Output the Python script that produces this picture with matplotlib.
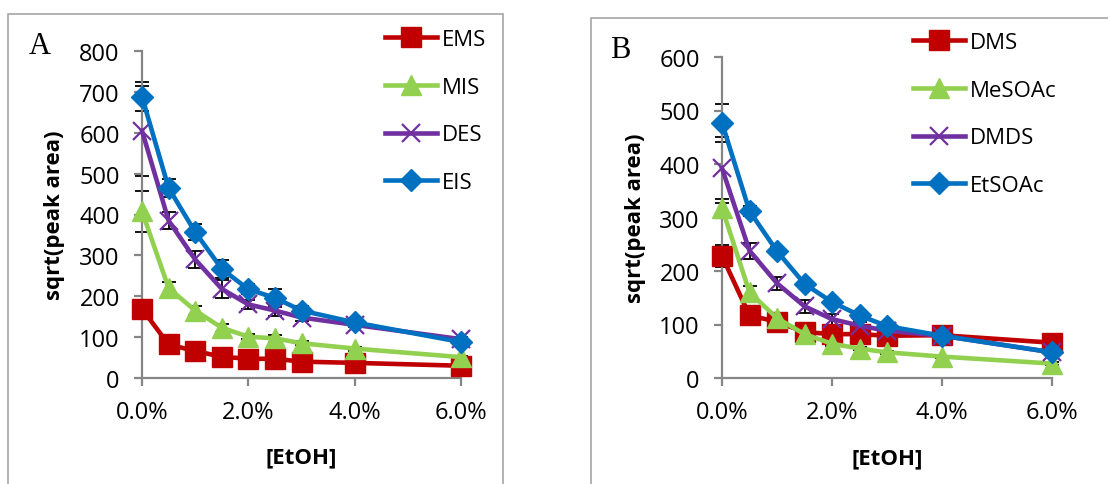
import matplotlib.pyplot as plt
import matplotlib.patches as mpatches
from matplotlib.ticker import PercentFormatter
import numpy as np

# ethanol concentration (fraction)
etoh = [0.0, 0.005, 0.01, 0.015, 0.02, 0.025, 0.03, 0.04, 0.06]

# panel A
ems = [169, 82, 66, 52, 47, 47, 40, 37, 30]
mis = [408, 220, 165, 123, 101, 97, 85, 72, 51]
des = [605, 385, 290, 218, 180, 165, 148, 130, 95]
eis = [688, 465, 357, 267, 217, 196, 165, 136, 88]
ems_err = [10, 5, 4, 3, 3, 3, 2, 2, 2]
mis_err = [50, 15, 10, 10, 6, 8, 5, 5, 3]
des_err = [110, 20, 20, 22, 12, 13, 8, 6, 5]
eis_err = [35, 22, 20, 22, 12, 22, 10, 8, 5]

# panel B
dms = [228, 117, 105, 86, 82, 82, 79, 80, 66]
mesoac = [318, 160, 112, 82, 64, 55, 48, 40, 27]
dmds = [392, 238, 177, 134, 110, 98, 88, 79, 48]
etsoac = [477, 312, 237, 176, 142, 117, 97, 79, 48]
dms_err = [20, 10, 6, 5, 4, 4, 3, 3, 3]
mesoac_err = [10, 12, 8, 5, 4, 3, 3, 2, 2]
dmds_err = [58, 15, 12, 12, 10, 6, 5, 4, 3]
etsoac_err = [35, 10, 8, 8, 6, 5, 4, 3, 3]

RED = '#C00000'
GREEN = '#92D050'
PURPLE = '#7030A0'
BLUE = '#0070C0'
GRAY = '#868686'
FS = 16

plt.rcParams['font.family'] = ['Open Sans', 'DejaVu Sans']

fig = plt.figure(figsize=(11.08, 4.85), dpi=100)

# panel frames
fig.patches.append(mpatches.Rectangle((8 / 1108, -0.1), 495 / 1108, 1.1 - 15 / 485,
                                      transform=fig.transFigure, fill=False,
                                      edgecolor='#A6A6A6', lw=1.2))
fig.patches.append(mpatches.Rectangle((591 / 1108, -0.1), 600 / 1108, 1.1 - 19 / 485,
                                      transform=fig.transFigure, fill=False,
                                      edgecolor='#A6A6A6', lw=1.2))

axA = fig.add_axes([142 / 1108, 1 - 379 / 485, 319 / 1108, 327 / 485])
axB = fig.add_axes([722 / 1108, 1 - 379 / 485, 330 / 1108, 321 / 485])


def draw(ax, series, ymax, ylab_x, xlab_y):
    for vals, errs, color, marker, ms, label in series:
        ax.errorbar(etoh, vals, yerr=errs, fmt='none', ecolor='black',
                    elinewidth=1.3, capsize=5, capthick=1.3, zorder=2, clip_on=False)
    for vals, errs, color, marker, ms, label in series:
        mew = 1.6 if marker == 'x' else 1
        ax.plot(etoh, vals, color=color, lw=3.3, marker=marker, markersize=ms,
                markeredgewidth=mew, markeredgecolor=color, label=label,
                zorder=3, clip_on=False)
    ax.set_xlim(0, 0.06)
    ax.set_ylim(0, ymax)
    ax.set_xticks([0, 0.02, 0.04, 0.06])
    ax.set_yticks(np.arange(0, ymax + 1, 100))
    ax.xaxis.set_major_formatter(PercentFormatter(1.0, decimals=1))
    for s in ['top', 'right']:
        ax.spines[s].set_visible(False)
    for s in ['left', 'bottom']:
        ax.spines[s].set_color(GRAY)
        ax.spines[s].set_linewidth(1.6)
    ax.tick_params(axis='both', direction='out', length=6, width=1.6, color=GRAY,
                   labelsize=17)
    ax.tick_params(axis='x', pad=10)
    ax.tick_params(axis='y', pad=10)
    ax.set_xlabel('[EtOH]', fontsize=FS, fontweight='bold')
    ax.set_ylabel('sqrt(peak area)', fontsize=FS, fontweight='bold')
    ax.yaxis.set_label_coords(ylab_x, 0.5)
    ax.xaxis.set_label_coords(0.5, xlab_y)


seriesA = [
    (ems, ems_err, RED, 's', 14, 'EMS'),
    (mis, mis_err, GREEN, '^', 14, 'MIS'),
    (des, des_err, PURPLE, 'x', 13, 'DES'),
    (eis, eis_err, BLUE, 'D', 11, 'EIS'),
]
seriesB = [
    (dms, dms_err, RED, 's', 14, 'DMS'),
    (mesoac, mesoac_err, GREEN, '^', 14, 'MeSOAc'),
    (dmds, dmds_err, PURPLE, 'x', 13, 'DMDS'),
    (etsoac, etsoac_err, BLUE, 'D', 11, 'EtSOAc'),
]

draw(axA, seriesA, 800, -0.241, -0.208)
draw(axB, seriesB, 600, -0.230, -0.215)

for ax, x0, y0 in [(axA, 385, 30), (axB, 913, 33)]:
    h, l = ax.get_legend_handles_labels()
    fig.legend(h, l, loc='upper left', bbox_to_anchor=(x0 / 1108, 1 - y0 / 485),
               frameon=False, fontsize=FS, borderpad=0, borderaxespad=0,
               handlelength=2.35, handletextpad=0.2, labelspacing=1.2)

fig.text(40 / 1108, 1 - 46 / 485, 'A', fontsize=22, family='Liberation Serif',
         ha='center', va='center')
fig.text(620 / 1108, 1 - 50 / 485, 'B', fontsize=22, family='Liberation Serif',
         ha='center', va='center')

fig.savefig('out.png', dpi=100)
